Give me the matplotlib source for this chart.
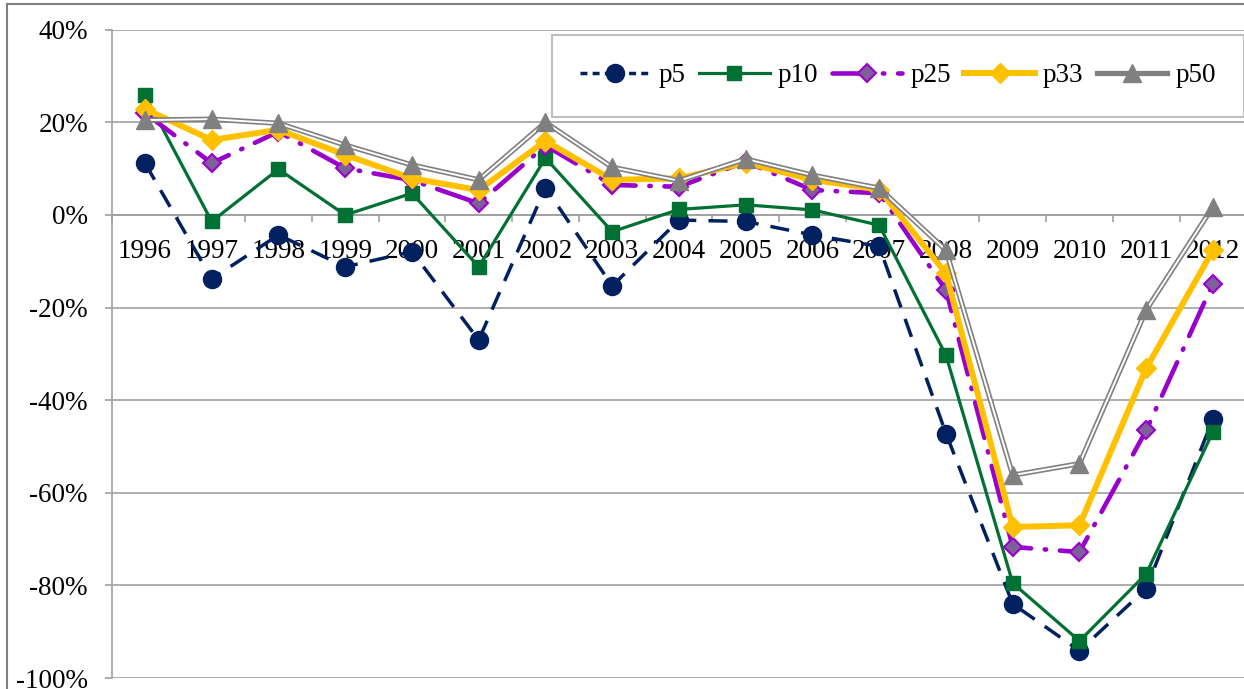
import matplotlib
matplotlib.use("Agg")
import matplotlib.pyplot as plt
from matplotlib.lines import Line2D
from matplotlib.ticker import FixedLocator, FuncFormatter

plt.rcParams["font.family"] = ["Liberation Serif", "DejaVu Serif"]

years = [str(y) for y in range(1996, 2013)]
p5 = [11.2, -13.8, -4.3, -11.2, -7.9, -27.0, 5.9, -15.3, -1.1, -1.4, -4.3, -6.8, -47.2, -84.0, -94.1, -80.7, -44.0]
p10 = [25.9, -1.4, 9.9, 0.0, 4.7, -11.2, 12.3, -3.6, 1.2, 2.2, 1.1, -2.2, -30.3, -79.5, -92.0, -77.5, -46.8]
p25 = [22.0, 11.2, 18.0, 10.1, 7.5, 2.5, 15.0, 6.5, 6.1, 11.5, 5.4, 4.7, -16.2, -71.7, -72.8, -46.5, -14.8]
p33 = [22.9, 16.2, 18.4, 13.0, 7.9, 5.4, 16.0, 7.6, 7.9, 11.3, 7.6, 5.5, -12.6, -67.4, -67.0, -33.1, -7.6]
p50 = [20.5, 20.7, 19.8, 15.1, 10.8, 7.6, 20.0, 10.3, 7.4, 12.1, 8.6, 5.8, -7.6, -56.2, -53.7, -20.5, 1.8]

W, H = 1244, 689
fig = plt.figure(figsize=(W / 100, H / 100), dpi=100)
ax = fig.add_axes([111.6 / W, 11 / H, 1134.75 / W, 648.2 / H])

x = list(range(len(years)))
GRID = "#A0A0A0"
FS = 19.5

# p5: dashed navy with circles
ax.plot(x, p5, color="#002060", lw=2.5, dashes=(5.5, 3.5), marker="o", ms=13,
        zorder=3, label="p5")
# p10: solid green with squares
ax.plot(x, p10, color="#007033", lw=2.3, marker="s", ms=10, zorder=4, label="p10")
# p25: purple dash-dot with grey-purple diamonds
ax.plot(x, p25, color="#9900CC", lw=3.3, dashes=(8, 3, 0.3, 3), dash_capstyle="round",
        marker="D", ms=9, mfc="#7F5F99", mec="#9900CC", mew=1.5, zorder=5, label="p25")
# p33: thick gold with diamonds
ax.plot(x, p33, color="#FFC000", lw=4.3, marker="D", ms=10, zorder=6, label="p33")
# p50: grey double line with triangles
ax.plot(x, p50, color="#808080", lw=3.8, zorder=7)
ax.plot(x, p50, color="white", lw=1.4, zorder=7)
ax.plot(x, p50, ls="none", color="#808080", marker="^", ms=13, zorder=8)

ax.set_xlim(-0.5, len(years) - 0.5)
ax.set_ylim(-100, 40)

ax.yaxis.set_major_locator(FixedLocator([-100, -80, -60, -40, -20, 0, 20, 40]))
ax.yaxis.set_major_formatter(FuncFormatter(lambda v, p: "%d%%" % v))
ax.grid(axis="y", color=GRID, lw=1.2, zorder=0)
ax.tick_params(axis="y", length=5, width=1.2, color=GRID, pad=12, labelsize=FS)

ax.xaxis.set_major_locator(FixedLocator([i - 0.5 for i in range(len(years) + 1)]))
ax.xaxis.set_major_formatter(FuncFormatter(lambda v, p: ""))
ax.xaxis.set_minor_locator(FixedLocator(x))
ax.set_xticklabels(years, minor=True)
ax.tick_params(axis="x", which="major", direction="out", length=5, width=1.2, color=GRID)
ax.tick_params(axis="x", which="minor", length=0, pad=17, labelsize=FS)

ax.spines["bottom"].set_position(("data", 0))
ax.spines["bottom"].set_color(GRID)
ax.spines["bottom"].set_linewidth(1.2)
ax.spines["left"].set_color(GRID)
ax.spines["left"].set_linewidth(1.2)
ax.spines["top"].set_visible(False)
ax.spines["right"].set_visible(False)

handles = [
    Line2D([], [], color="#002060", lw=2.5, dashes=(2, 1.5), marker="o", ms=13),
    Line2D([], [], color="#007033", lw=2.3, marker="s", ms=10),
    Line2D([], [], color="#9900CC", lw=3.3, dashes=(8, 3, 0.3, 3), dash_capstyle="round",
           marker="D", ms=9, mfc="#7F5F99", mec="#9900CC", mew=1.5),
    Line2D([], [], color="#FFC000", lw=4.3, marker="D", ms=10),
    Line2D([], [], color="#808080", lw=3.8, marker="^", ms=13),
]
leg = fig.legend(handles, ["p5", "p10", "p25", "p33", "p50"], loc="center",
                 bbox_to_anchor=(898 / W, 1 - 76 / H), ncol=5, fontsize=FS,
                 frameon=True, fancybox=False, edgecolor="#BFBFBF", framealpha=1,
                 handlelength=2.6, handletextpad=0.3, columnspacing=0.5, borderpad=1.05)
leg.get_frame().set_linewidth(1.5)

# outer chart frame
fig.add_artist(Line2D([7 / W, 1], [1 - 4 / H, 1 - 4 / H], color="#808080", lw=1.5))
fig.add_artist(Line2D([7 / W, 7 / W], [0, 1 - 4 / H], color="#808080", lw=1.5))

fig.savefig("out.png", dpi=100)
